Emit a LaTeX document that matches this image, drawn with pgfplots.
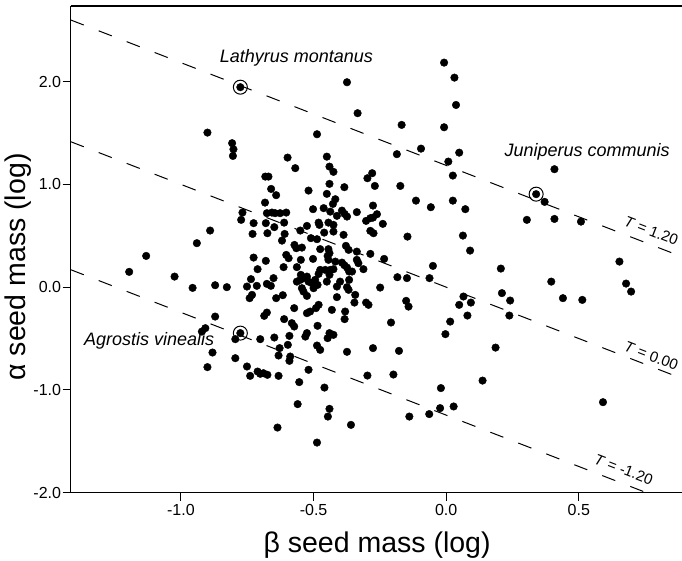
\documentclass[border=0pt]{standalone}
\usepackage{pgfplots}
\pgfplotsset{compat=1.18}
\usepackage{fontspec}
\setmainfont{Liberation Sans}

% seed mass data (log)
\pgfplotstableread{
x y
-0.374 1.994
-0.776 1.946
-0.334 1.693
-0.900 1.504
-0.487 1.488
-0.807 1.401
-0.802 1.342
-0.804 1.277
-0.598 1.261
-0.569 1.158
-0.450 1.270
-0.440 1.173
-0.425 1.122
-0.682 1.076
-0.670 1.076
-0.008 2.185
0.031 2.039
0.037 1.773
-0.168 1.579
-0.008 1.556
-0.095 1.348
-0.186 1.294
0.049 1.309
0.008 1.222
-0.279 1.109
-0.297 1.060
0.025 1.086
0.408 1.148
-0.940 0.428
-1.131 0.304
-1.195 0.149
-1.024 0.103
-0.956 -0.007
-0.519 0.940
-0.440 1.005
-0.384 0.973
-0.660 0.956
-0.641 0.895
-0.450 0.908
-0.418 0.856
-0.427 0.810
-0.683 0.823
-0.502 0.759
-0.462 0.769
-0.437 0.735
-0.393 0.745
-0.383 0.713
-0.337 0.730
-0.412 0.694
-0.768 0.726
-0.773 0.655
-0.676 0.720
-0.657 0.726
-0.645 0.720
-0.626 0.720
-0.603 0.726
-0.374 0.687
-0.726 0.623
-0.680 0.623
-0.648 0.584
-0.611 0.628
-0.481 0.628
-0.478 0.606
-0.525 0.596
-0.425 0.606
-0.444 0.628
-0.890 0.551
-0.730 0.518
-0.674 0.525
-0.550 0.551
-0.609 0.518
-0.460 0.531
-0.425 0.541
-0.387 0.509
-0.510 0.477
-0.487 0.467
-0.619 0.453
-0.572 0.411
-0.565 0.379
-0.544 0.385
-0.475 0.370
-0.444 0.370
-0.440 0.331
-0.378 0.402
-0.368 0.363
-0.337 0.346
-0.603 0.314
-0.594 0.282
-0.726 0.288
-0.680 0.256
-0.548 0.266
-0.502 0.275
-0.447 0.304
-0.444 0.266
-0.418 0.249
-0.393 0.239
-0.384 0.214
-0.337 0.266
-0.331 0.233
-0.613 0.195
-0.563 0.195
-0.711 0.175
-0.475 0.168
-0.456 0.168
-0.437 0.168
-0.425 0.175
-0.481 0.129
-0.374 0.191
-0.366 0.152
-0.355 0.152
-0.548 0.120
-0.550 0.071
-0.538 0.088
-0.525 0.103
-0.440 0.120
-0.563 0.054
-0.519 0.054
-0.506 0.039
-0.494 0.071
-0.450 0.054
-0.400 0.054
-0.366 0.071
-0.736 0.078
-0.651 0.088
-0.871 0.019
-0.827 0.000
-0.751 0.006
-0.714 0.013
-0.676 0.032
-0.661 0.013
-0.544 -0.010
-0.538 -0.043
-0.500 -0.010
-0.485 0.022
-0.412 0.006
-0.374 0.000
-0.368 -0.026
-0.525 -0.085
-0.732 -0.075
-0.741 -0.107
-0.616 -0.078
-0.641 -0.107
-0.412 -0.097
-0.343 -0.075
-0.346 -0.150
-0.481 -0.172
-0.491 -0.204
-0.573 -0.204
-0.525 -0.253
-0.513 -0.237
-0.431 -0.221
-0.381 -0.237
-0.676 -0.247
-0.686 -0.279
-0.611 -0.311
-0.582 -0.350
-0.573 -0.383
-0.383 -0.311
-0.871 -0.286
-0.485 -0.376
-0.525 -0.447
-0.531 -0.481
-0.440 -0.447
-0.425 -0.464
-0.447 -0.496
-0.776 -0.447
-0.908 -0.399
-0.921 -0.432
-0.795 -0.506
-0.701 -0.506
-0.648 -0.490
-0.591 -0.474
-0.597 -0.561
-0.628 -0.593
-0.487 -0.568
-0.475 -0.610
-0.374 -0.629
-0.881 -0.636
-0.632 -0.665
-0.588 -0.675
-0.795 -0.691
-0.269 0.985
-0.173 0.985
-0.114 0.842
-0.058 0.778
0.025 0.842
0.072 0.759
-0.276 0.794
-0.261 0.710
-0.276 0.677
-0.302 0.645
-0.286 0.671
-0.239 0.616
-0.286 0.548
-0.274 0.525
-0.146 0.492
0.063 0.502
0.090 0.356
-0.286 0.324
-0.234 0.275
-0.312 0.175
-0.050 0.207
-0.184 0.097
-0.148 0.088
-0.063 0.088
0.206 0.181
-0.249 -0.004
0.065 -0.091
0.049 -0.172
0.093 -0.150
0.210 -0.058
0.241 -0.130
0.238 -0.276
0.080 -0.276
-0.302 -0.150
-0.293 -0.172
-0.151 -0.133
-0.142 -0.189
-0.208 -0.344
0.015 -0.335
-0.003 -0.457
-0.276 -0.593
-0.178 -0.620
0.186 -0.588
0.339 0.905
0.371 0.830
0.304 0.655
0.408 0.664
0.508 0.638
0.653 0.249
0.396 0.054
0.678 0.035
0.697 -0.043
0.440 -0.107
0.513 -0.124
-0.900 -0.778
-0.751 -0.772
-0.739 -0.863
-0.711 -0.821
-0.701 -0.843
-0.689 -0.837
-0.674 -0.853
-0.632 -0.863
-0.591 -0.717
-0.519 -0.804
-0.554 -0.924
-0.459 -0.977
-0.560 -1.138
-0.440 -1.184
-0.446 -1.259
-0.359 -1.340
-0.636 -1.366
-0.487 -1.512
-0.297 -0.860
-0.199 -0.850
-0.020 -0.982
0.137 -0.909
-0.139 -1.259
-0.064 -1.235
-0.023 -1.177
0.028 -1.161
0.591 -1.119
}\seeds

\begin{document}
\begin{tikzpicture}
\useasboundingbox (0,0) rectangle (682pt,560pt);
\begin{axis}[
  at={(70.7pt,67.3pt)}, anchor=south west,
  scale only axis,
  width=611.5pt, height=486.7pt,
  xmin=-1.4155, xmax=0.8896,
  ymin=-2.0, ymax=2.736,
  axis x line=box, axis y line=left,
  axis line style={-, line width=1.2pt},
  xtick pos=bottom, ytick pos=left,
  tick align=outside,
  major tick length=8pt,
  major tick style={line width=1pt, black},
  xtick={-1,-0.5,0,0.5},
  xticklabels={-1.0,-0.5,0.0,0.5},
  ytick={-2,-1,0,1,2},
  yticklabels={-2.0,-1.0,0.0,1.0,2.0},
  ticklabel style={font=\fontsize{16}{19}\selectfont},
  yticklabel style={inner sep=1.5pt},
  xlabel={β seed mass (log)},
  ylabel={α seed mass (log)},
  every axis x label/.style={at={(axis description cs:0.501,-0.1075)}, anchor=center,
    font=\fontsize{28.5}{33}\selectfont},
  every axis y label/.style={at={(axis description cs:-0.0862,0.4637)}, anchor=center,
    rotate=90, font=\fontsize{28.5}{33}\selectfont},
]
% lines of constant T
\addplot[black, line width=1pt, dash pattern=on 14pt off 16pt] coordinates {(-1.4155,2.600) (0.8896,0.295)};
\addplot[black, line width=1pt, dash pattern=on 14pt off 16pt] coordinates {(-1.4155,1.4155) (0.8896,-0.8896)};
\addplot[black, line width=1pt, dash pattern=on 14pt off 16pt] coordinates {(-1.4155,0.170) (0.755,-2.0)};

\addplot[only marks, mark=*, mark size=3.8pt, black] table[x=x, y=y] {\seeds};
\addplot[only marks, mark=o, mark size=7pt, line width=1pt, black] coordinates {
  (-0.776,1.946) (0.339,0.905) (-0.776,-0.447)};

\node[font=\fontsize{18}{21}\selectfont\itshape] at (axis cs:-0.565,2.231) {Lathyrus montanus};
\node[font=\fontsize{18}{21}\selectfont\itshape] at (axis cs:0.531,1.316) {Juniperus communis};
\node[font=\fontsize{18}{21}\selectfont\itshape] at (axis cs:-1.120,-0.527) {Agrostis vinealis};

\node[rotate=-21.2, inner sep=0pt, font=\fontsize{15}{18}\selectfont] at (axis cs:0.773,0.550) {\textit{T} = 1.20};
\node[rotate=-21.2, inner sep=0pt, font=\fontsize{15}{18}\selectfont] at (axis cs:0.773,-0.667) {\textit{T} = 0.00};
\node[rotate=-21.2, inner sep=0pt, font=\fontsize{15}{18}\selectfont] at (axis cs:0.669,-1.775) {\textit{T} = -1.20};
\end{axis}
\end{tikzpicture}
\end{document}
